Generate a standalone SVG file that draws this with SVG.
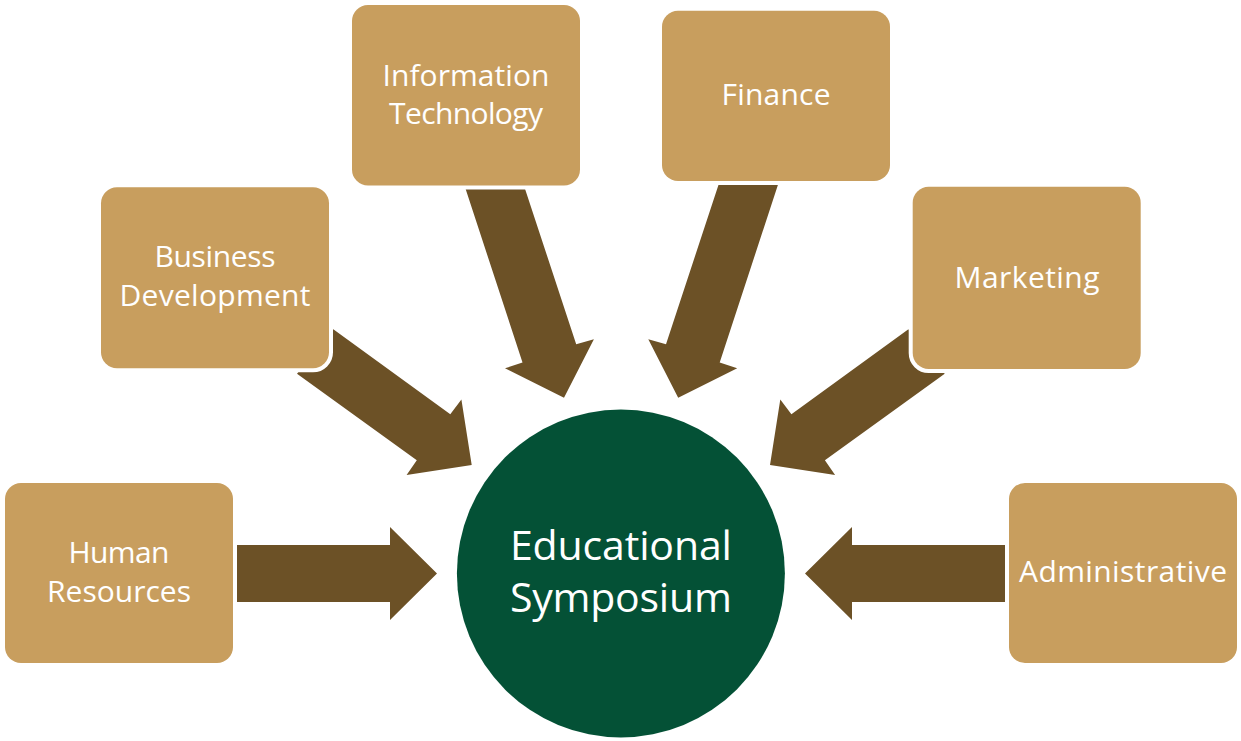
<svg xmlns="http://www.w3.org/2000/svg" width="1241" height="741" viewBox="0 0 1241 741">
<style>
.box{fill:#C89E5E;stroke:#FFFFFF;stroke-width:8;paint-order:stroke fill;}
.arrow{fill:#6C5126;stroke:none;}
.lbl{font-family:"Open Sans","Noto Sans",sans-serif;font-size:30px;fill:#FFFFFF;text-anchor:middle;}
.big{font-family:"Open Sans","Noto Sans",sans-serif;font-size:41px;fill:#FFFFFF;text-anchor:middle;}
</style>
<rect x="0" y="0" width="1241" height="741" fill="#FFFFFF"/>
<g id="connectors">
  <polygon class="arrow" points="237,545 390,545 390,527 437,573.5 390,620 390,602 237,602"/>
  <polygon class="arrow" points="1005,545 852,545 852,527 805,573.5 852,620 852,602 1005,602"/>
  <polygon class="arrow" points="333.3,329.3 450.3,414.2 461.4,399.5 471.7,465 406.6,475 416.8,460.3 297,373.8"/>
  <polygon class="arrow" points="908.4,329.3 791.4,414.2 780.3,399.5 770,465 835.1,475 824.9,460.3 944.7,373.8"/>
  <polygon class="arrow" points="459.4,170 518.8,170 576.2,344.2 593.9,339.3 564,397.7 505,368.3 522.5,362.5"/>
  <polygon class="arrow" points="782.8,170 723.4,170 666,344.2 648.3,339.3 678.2,397.7 737.2,368.3 719.7,362.5"/>
</g>
<g id="human-resources">
  <rect class="box" x="5" y="483" width="228" height="180" rx="16"/>
  <text class="lbl" x="119" y="563.3" textLength="101">Human</text>
  <text class="lbl" x="119" y="601.7" textLength="144">Resources</text>
</g>
<g id="business-development">
  <rect class="box" x="101" y="187.3" width="228" height="181" rx="16"/>
  <text class="lbl" x="215" y="267.3" textLength="121">Business</text>
  <text class="lbl" x="215" y="305.7" textLength="191">Development</text>
</g>
<g id="information-technology">
  <rect class="box" x="352" y="5" width="228" height="180.5" rx="16"/>
  <text class="lbl" x="466" y="86" textLength="167">Information</text>
  <text class="lbl" x="466" y="124" textLength="154">Technology</text>
</g>
<g id="finance">
  <rect class="box" x="662" y="10.7" width="228" height="170.3" rx="16"/>
  <text class="lbl" x="776" y="105" textLength="109">Finance</text>
</g>
<g id="marketing">
  <rect class="box" x="912.7" y="186.7" width="228" height="182.3" rx="16"/>
  <text class="lbl" x="1027" y="288.3" textLength="145">Marketing</text>
</g>
<g id="administrative">
  <rect class="box" x="1009" y="483" width="228" height="180" rx="16"/>
  <text class="lbl" x="1123" y="582.3" textLength="208">Administrative</text>
</g>
<g id="educational-symposium">
  <circle cx="620.9" cy="573.5" r="164" fill="#045136"/>
  <text class="big" x="620.9" y="560" textLength="222">Educational</text>
  <text class="big" x="620.9" y="611.7" textLength="222">Symposium</text>
</g>
</svg>
